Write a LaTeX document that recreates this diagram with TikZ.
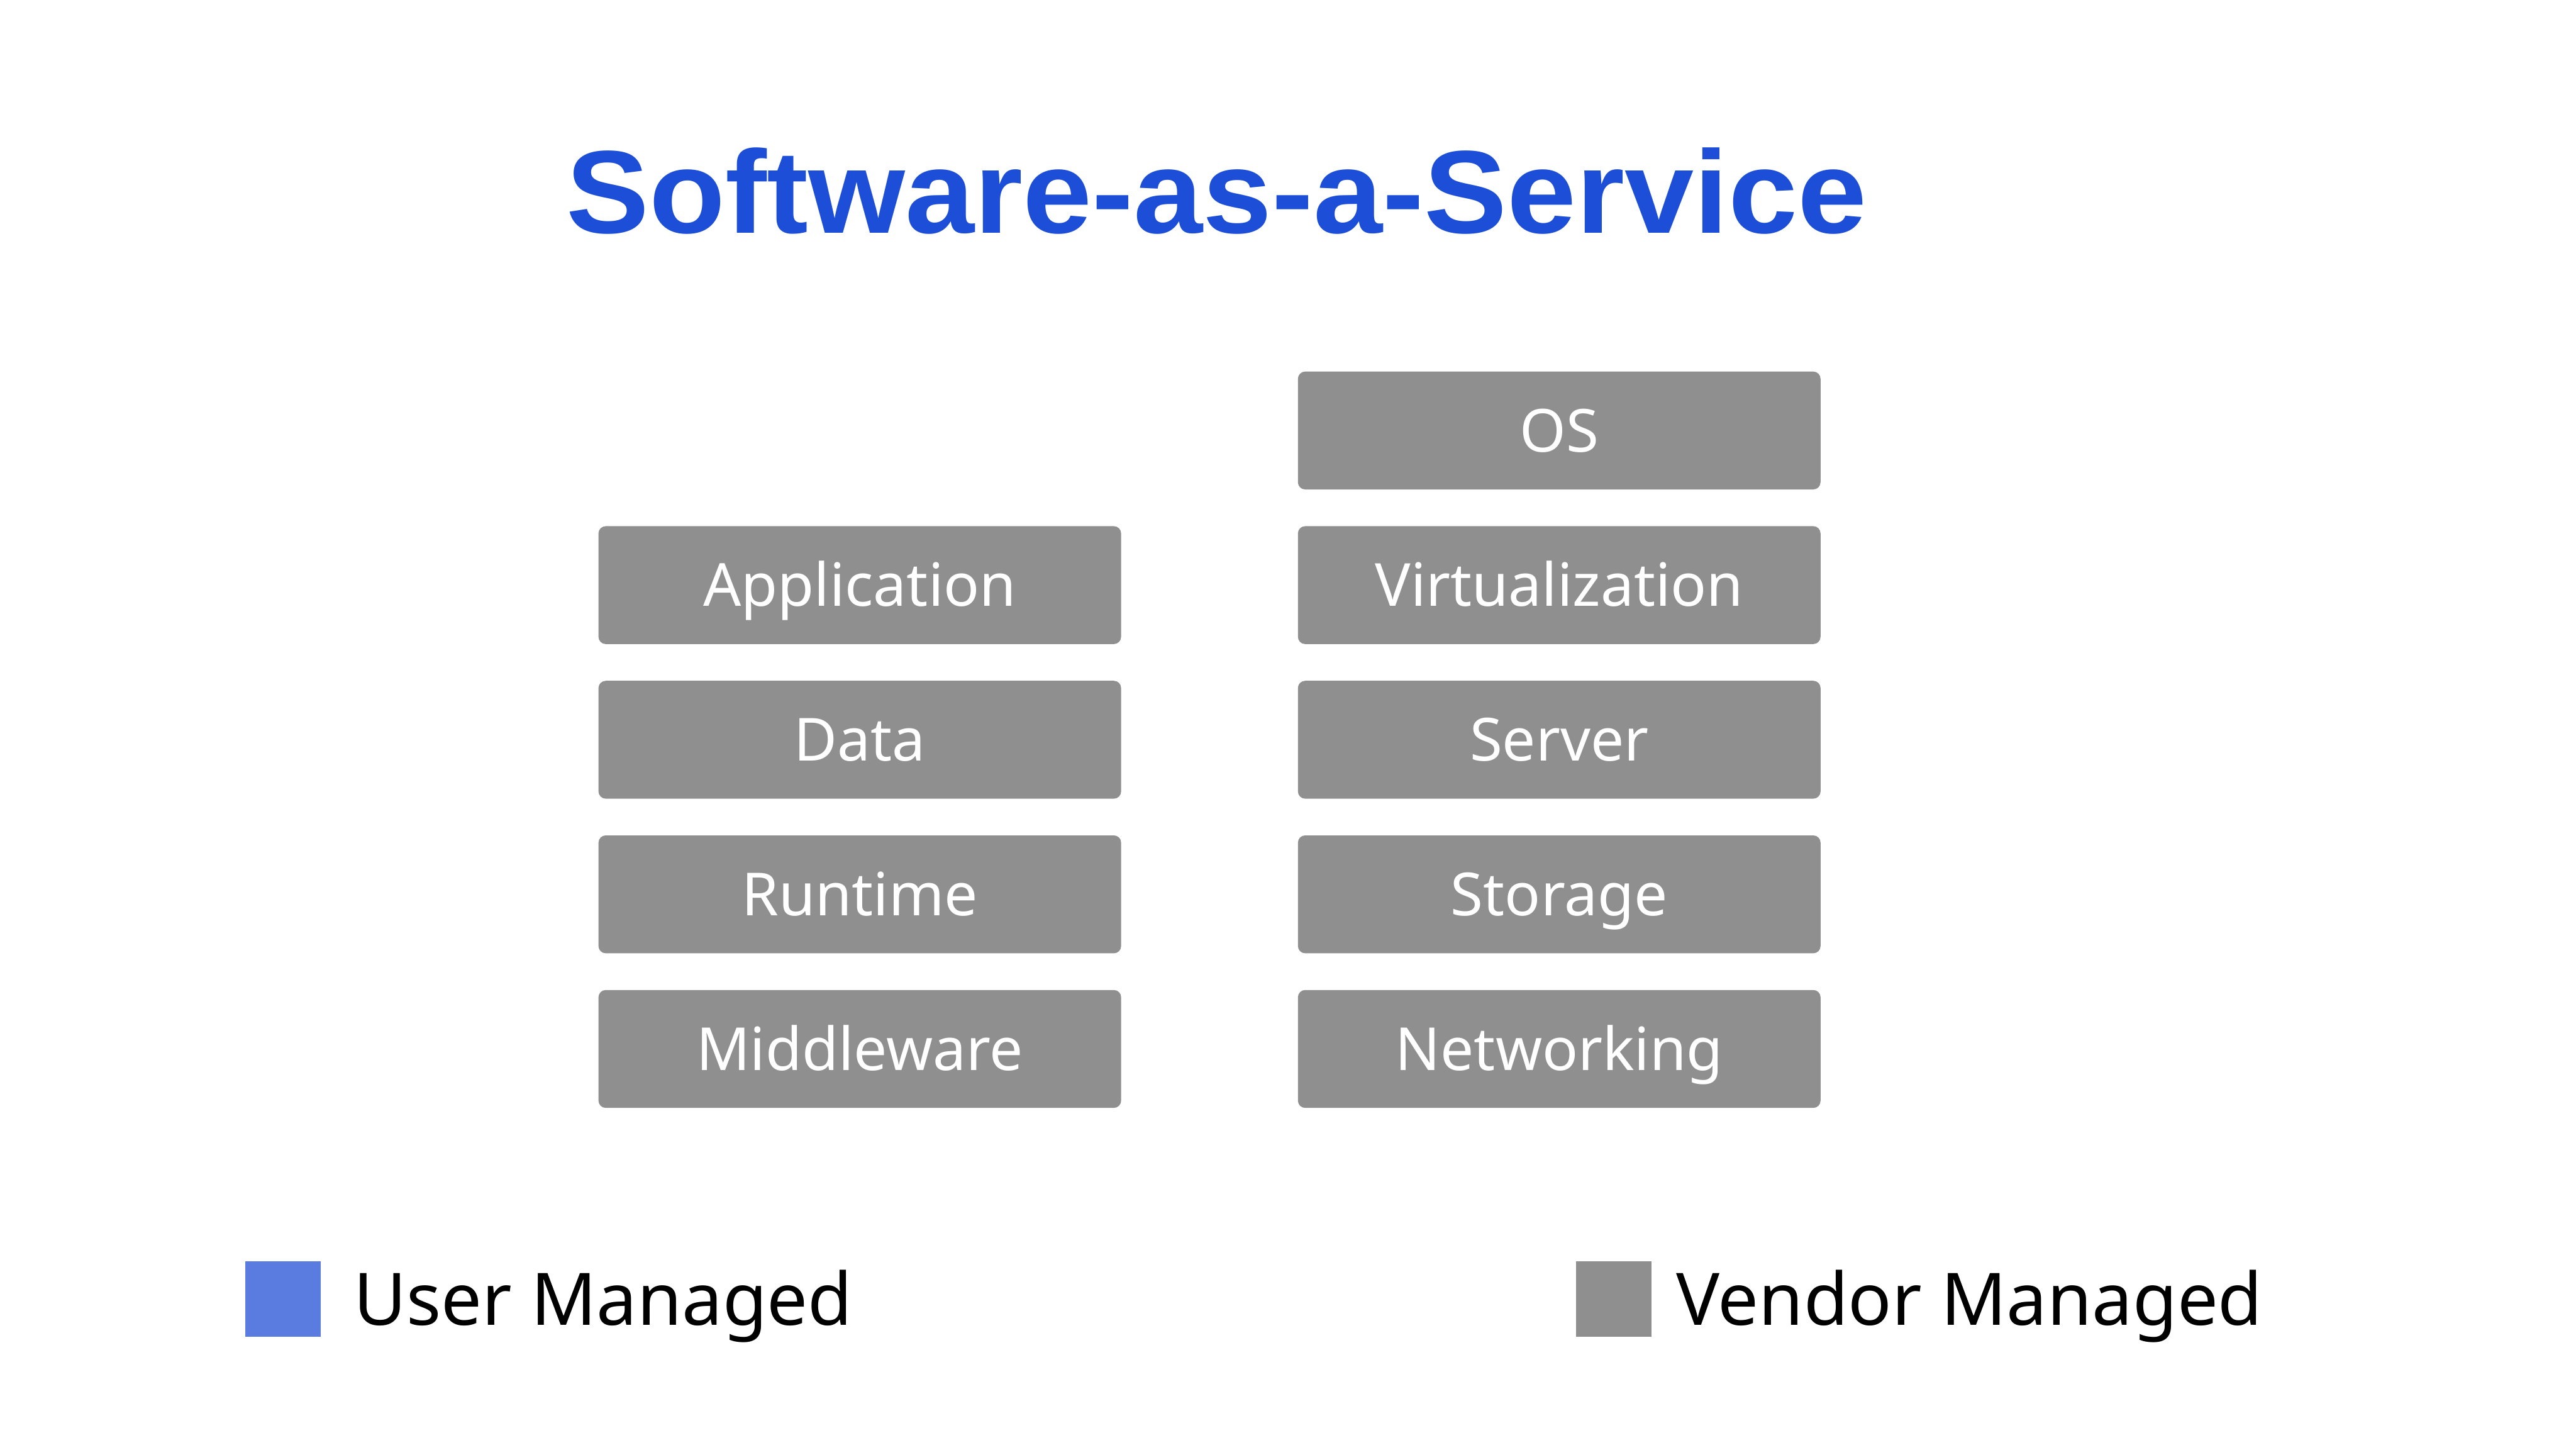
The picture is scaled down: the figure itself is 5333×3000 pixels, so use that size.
\documentclass[tikz,border=0pt]{standalone}
\usepackage{fontspec}
\setmainfont{Noto Sans}
\newfontfamily\titlefont{Liberation Sans Bold}[FakeStretch=1.056]
\definecolor{titleblue}{HTML}{1D4ED8}
\definecolor{boxgray}{HTML}{8F8F8F}
\definecolor{userblue}{HTML}{5A7BE0}
\begin{document}
\begin{tikzpicture}[x=0.1pt,y=-0.1pt,
  layer/.style={fill=boxgray,text=white,rounded corners=1.5pt,inner sep=0pt,
    minimum width=108.2pt,minimum height=24.4pt,text height=8.8pt,text depth=0pt,
    font=\fontsize{12.3}{14}\selectfont},
  swatch/.style={inner sep=0pt,minimum size=15.6pt},
  legendtext/.style={inner sep=0pt,anchor=base west,font=\fontsize{15.0}{18}\selectfont}]
\useasboundingbox (0,0) rectangle (5333,3000);
\fill[white] (0,0) rectangle (5333,3000);
\node[anchor=base,inner sep=0pt,text=titleblue,font=\fontsize{24.4}{29}\titlefont] (title) at (2519,482) {Software-as-a-Service};
\node[layer] (os) at (3228,891) {OS};
\node[layer] (app) at (1780,1211) {Application};
\node[layer] (virt) at (3228,1211) {Virtualization};
\node[layer] (data) at (1780,1531) {Data};
\node[layer] (server) at (3228,1531) {Server};
\node[layer] (runtime) at (1780,1851) {Runtime};
\node[layer] (storage) at (3228,1851) {Storage};
\node[layer] (mw) at (1780,2171) {Middleware};
\node[layer] (net) at (3228,2171) {Networking};
\node[swatch,fill=userblue] (usq) at (586,2689) {};
\node[legendtext] (ut) at (730,2742) {User Managed};
\node[swatch,fill=boxgray] (vsq) at (3341,2689) {};
\node[legendtext] (vt) at (3468,2742) {Vendor Managed};
\end{tikzpicture}
\end{document}
